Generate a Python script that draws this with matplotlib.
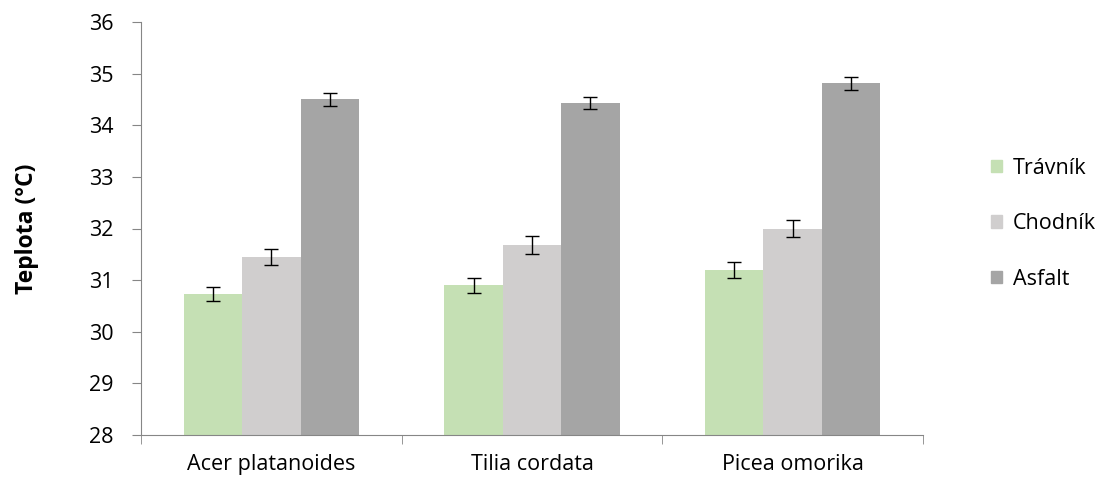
import matplotlib.pyplot as plt
import numpy as np
from matplotlib.patches import Patch

# mean surface temperature under three tree species, per ground type
species = ["Acer platanoides", "Tilia cordata", "Picea omorika"]
groups = ["Trávník", "Chodník", "Asfalt"]
travnik = [30.73, 30.90, 31.20]
chodnik = [31.45, 31.68, 32.00]
asfalt = [34.50, 34.43, 34.81]
travnik_err = [0.13, 0.14, 0.15]
chodnik_err = [0.16, 0.17, 0.16]
asfalt_err = [0.12, 0.12, 0.13]

colors = ["#C5E0B4", "#D0CECE", "#A5A5A5"]

plt.rcParams['font.family'] = ['Open Sans', 'DejaVu Sans']
fs = 15.5

fig = plt.figure(figsize=(11.04, 4.83), dpi=100)
ax = fig.add_axes([141 / 1104, 48 / 483, 782 / 1104, 413 / 483])

x = np.arange(len(species))
w = 0.224
series = [travnik, chodnik, asfalt]
errs = [travnik_err, chodnik_err, asfalt_err]
for i in range(3):
    ax.bar(x + (i - 1) * w, series[i], w, bottom=0, color=colors[i],
           yerr=errs[i], capsize=5,
           error_kw={"elinewidth": 1, "capthick": 1, "ecolor": "black"})

ax.set_ylim(28, 36)
ax.set_xlim(-0.5, 2.5)
ax.set_yticks(range(28, 37))
ax.set_xticks(x)
ax.set_xticklabels(species)
ax.set_xticks(np.arange(-0.5, 3.0, 1.0), minor=True)
ax.tick_params(axis="x", which="major", length=0, labelsize=fs, pad=14)
ax.tick_params(axis="x", which="minor", length=6.5, color="#868686")
ax.tick_params(axis="y", length=6.5, color="#868686", labelsize=fs, pad=13)

for s in ["top", "right"]:
    ax.spines[s].set_visible(False)
for s in ["left", "bottom"]:
    ax.spines[s].set_color("#868686")

ax.set_ylabel("Teplota (°C)", fontsize=fs + 1, fontweight="bold", labelpad=36)

handles = [Patch(color=c) for c in colors]
fig.legend(handles, groups, loc="center left", bbox_to_anchor=(0.888, 0.537),
           frameon=False, fontsize=fs, labelspacing=1.6, borderpad=0,
           handlelength=0.5, handleheight=0.5, handletextpad=0.5)

fig.savefig("out.png", dpi=100)
